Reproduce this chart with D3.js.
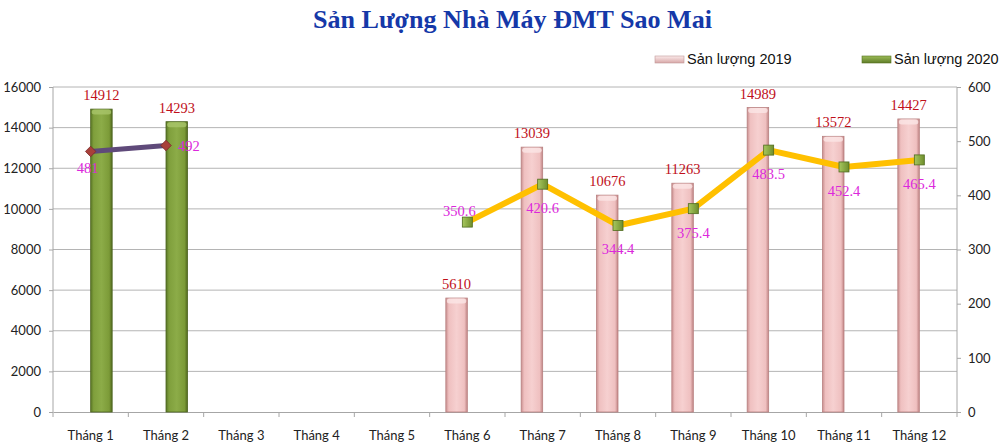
<!DOCTYPE html>
<html>
<head>
<meta charset="utf-8">
<script src="https://cdn.jsdelivr.net/npm/d3@7"></script>
<style>
  body { margin: 0; background: #fff; }
  svg { display: block; }
</style>
</head>
<body>
<div id="chart"></div>
<script>
// chart data
const months = ["Tháng 1", "Tháng 2", "Tháng 3", "Tháng 4", "Tháng 5", "Tháng 6",
	"Tháng 7", "Tháng 8", "Tháng 9", "Tháng 10", "Tháng 11", "Tháng 12"];
const output2019 = [null, null, null, null, null, 5610, 13039, 10676, 11263, 14989, 13572, 14427];
const output2020 = [14912, 14293, null, null, null, null, null, null, null, null, null, null];
const line2019 = [null, null, null, null, null, 350.6, 420.6, 344.4, 375.4, 483.5, 452.4, 465.4];
const line2020 = [481, 492, null, null, null, null, null, null, null, null, null, null];
const leftTicks = [0, 2000, 4000, 6000, 8000, 10000, 12000, 14000, 16000];
const rightTicks = [0, 100, 200, 300, 400, 500, 600];
const seriesNames = ["Sản lượng 2019", "Sản lượng 2020"];
const chartTitle = "Sản Lượng Nhà Máy ĐMT Sao Mai";

const width = 1000;
const height = 444;
const margin = {top: 87, right: 43, bottom: 32, left: 53};

let svg = d3.select("#chart")
	.append("svg")
	.attr("width", width)
	.attr("height", height);

let defs = svg.append("defs");

function barGradient(id, stops) {
	let g = defs.append("linearGradient")
		.attr("id", id)
		.attr("x1", "0%").attr("x2", "100%")
		.attr("y1", "0%").attr("y2", "0%");
	stops.forEach(function(s) {
		g.append("stop").attr("offset", s[0]).attr("stop-color", s[1]);
	});
}
barGradient("pinkBar", [["0%", "#c98f8f"], ["14%", "#efc0c0"], ["50%", "#f6d0d0"], ["86%", "#efc0c0"], ["100%", "#c08484"]]);
barGradient("greenBar", [["0%", "#5a7626"], ["14%", "#7f9f3c"], ["50%", "#8cac48"], ["86%", "#7c9b38"], ["100%", "#52691e"]]);
barGradient("greenMarker", [["0%", "#a8c860"], ["100%", "#6e8e2c"]]);

let x0 = d3.scaleBand()
	.domain(months)
	.range([margin.left, width - margin.right]);

let x1 = d3.scaleBand()
	.domain(["2019", "2020"])
	.range([x0.bandwidth() / 2 - 21.5, x0.bandwidth() / 2 + 21.5]);

let yLeft = d3.scaleLinear()
	.domain([0, 16000])
	.range([height - margin.bottom, margin.top]);

let yRight = d3.scaleLinear()
	.domain([0, 600])
	.range([height - margin.bottom, margin.top]);

// title
svg.append("text")
	.attr("x", 313)
	.attr("y", 28)
	.attr("textLength", 399)
	.attr("lengthAdjust", "spacingAndGlyphs")
	.attr("font-family", "Liberation Serif, serif")
	.attr("font-weight", "bold")
	.attr("font-size", "25px")
	.attr("fill", "#1538a8")
	.text(chartTitle);

// gridlines
svg.append("g")
	.selectAll("line")
	.data(leftTicks.slice(1))
	.enter()
	.append("line")
	.attr("x1", margin.left)
	.attr("x2", width - margin.right)
	.attr("y1", d => yLeft(d))
	.attr("y2", d => yLeft(d))
	.attr("stroke", "#b4b4b4")
	.attr("stroke-width", 1);

// left axis
let leftAxis = svg.append("g")
	.attr("transform", "translate(" + margin.left + ",0)")
	.call(d3.axisLeft(yLeft).tickValues(leftTicks).tickSize(4).tickPadding(8).tickFormat(d3.format("d")));

// right axis
let rightAxis = svg.append("g")
	.attr("transform", "translate(" + (width - margin.right) + ",0)")
	.call(d3.axisRight(yRight).tickValues(rightTicks).tickSize(4).tickPadding(7).tickFormat(d3.format("d")));

// bottom axis, ticks at category boundaries
let bottomAxis = svg.append("g")
	.attr("transform", "translate(0," + (height - margin.bottom) + ")")
	.call(d3.axisBottom(x0).tickSize(0).tickPadding(19));

let boundaries = months.map(m => x0(m)).concat([x0.range()[1]]);
bottomAxis.selectAll(".bound")
	.data(boundaries)
	.enter()
	.append("line")
	.attr("class", "bound")
	.attr("x1", d => d).attr("x2", d => d)
	.attr("y1", 0).attr("y2", 5)
	.attr("stroke", "#a6a6a6");

[leftAxis, rightAxis, bottomAxis].forEach(function(ax) {
	ax.select(".domain").attr("stroke", "#a6a6a6");
	ax.selectAll(".tick line").attr("stroke", "#a6a6a6");
	ax.selectAll("text")
		.attr("font-family", "Lato, sans-serif")
		.attr("font-size", "13px")
		.attr("fill", "#222");
});
rightAxis.select(".domain").attr("d", "M0," + margin.top + "V" + (height - margin.bottom));
leftAxis.select(".domain").attr("d", "M0," + margin.top + "V" + (height - margin.bottom));

// bars
function drawBars(values, key, fill, edge, topFill) {
	let data = months.map((m, i) => ({month: m, value: values[i]})).filter(d => d.value !== null);
	let g = svg.append("g");
	g.selectAll("rect.bar")
		.data(data)
		.enter()
		.append("rect")
		.attr("class", "bar")
		.attr("x", d => x0(d.month) + x1(key))
		.attr("y", d => yLeft(d.value))
		.attr("width", x1.bandwidth())
		.attr("height", d => yLeft(0) - yLeft(d.value))
		.attr("fill", fill)
		.attr("stroke", edge)
		.attr("stroke-width", 0.8);
	// bevelled top
	g.selectAll("rect.top")
		.data(data)
		.enter()
		.append("rect")
		.attr("class", "top")
		.attr("x", d => x0(d.month) + x1(key) + 1)
		.attr("y", d => yLeft(d.value) + 0.5)
		.attr("width", x1.bandwidth() - 2)
		.attr("height", 5)
		.attr("rx", 3)
		.attr("fill", topFill)
		.attr("opacity", 0.8);
	// value labels
	g.selectAll("text")
		.data(data)
		.enter()
		.append("text")
		.attr("x", d => x0(d.month) + x1(key) + x1.bandwidth() / 2)
		.attr("y", d => yLeft(d.value) - 9)
		.attr("text-anchor", "middle")
		.attr("font-family", "Liberation Serif, serif")
		.attr("font-size", "14.5px")
		.attr("fill", "#c0101a")
		.text(d => d.value);
}
drawBars(output2019, "2019", "url(#pinkBar)", "#b88080", "#fbe6e6");
drawBars(output2020, "2020", "url(#greenBar)", "#4c6420", "#a9c56a");

// lines on the right axis
function drawLine(values, color, lineWidth) {
	let data = months.map((m, i) => ({month: m, value: values[i]})).filter(d => d.value !== null);
	let line = d3.line()
		.x(d => x0(d.month) + x0.bandwidth() / 2)
		.y(d => yRight(d.value));
	svg.append("path")
		.datum(data)
		.attr("d", line)
		.attr("fill", "none")
		.attr("stroke", color)
		.attr("stroke-width", lineWidth)
		.attr("stroke-linejoin", "round");
	return data;
}

// label offsets per point: [dx, dy of baseline]
const below = [0, 29];
let pts2019 = drawLine(line2019, "#ffc000", 6);
let pts2020 = drawLine(line2020, "#5f4a7a", 5);

svg.append("g")
	.selectAll("rect")
	.data(pts2019)
	.enter()
	.append("rect")
	.attr("x", d => x0(d.month) + x0.bandwidth() / 2 - 5)
	.attr("y", d => yRight(d.value) - 5)
	.attr("width", 10)
	.attr("height", 10)
	.attr("fill", "url(#greenMarker)")
	.attr("stroke", "#4f6b1f")
	.attr("stroke-width", 0.8);

svg.append("g")
	.selectAll("path")
	.data(pts2020)
	.enter()
	.append("path")
	.attr("d", d3.symbol().type(d3.symbolDiamond2).size(70))
	.attr("transform", d => "translate(" + (x0(d.month) + x0.bandwidth() / 2) + "," + yRight(d.value) + ")")
	.attr("fill", "#a8403a")
	.attr("stroke", "#7a2a28")
	.attr("stroke-width", 0.8);

function lineLabels(data, offsets) {
	svg.append("g")
		.selectAll("text")
		.data(data)
		.enter()
		.append("text")
		.attr("x", (d, i) => x0(d.month) + x0.bandwidth() / 2 + offsets(i)[0])
		.attr("y", (d, i) => yRight(d.value) + offsets(i)[1])
		.attr("text-anchor", (d, i) => offsets(i)[2] || "middle")
		.attr("font-family", "Liberation Serif, serif")
		.attr("font-size", "14.5px")
		.attr("fill", "#dc28dc")
		.text(d => d.value);
}
lineLabels(pts2019, i => i === 0 ? [-8, -6] : below);
lineLabels(pts2020, i => i === 0 ? [-3, 22] : [12, 5, "start"]);

// legend
const legendColors = ["url(#legendPink)", "url(#legendGreen)"];
function legendGradient(id, top, bottom) {
	let g = defs.append("linearGradient")
		.attr("id", id)
		.attr("x1", "0%").attr("x2", "0%")
		.attr("y1", "0%").attr("y2", "100%");
	g.append("stop").attr("offset", "0%").attr("stop-color", top);
	g.append("stop").attr("offset", "100%").attr("stop-color", bottom);
}
legendGradient("legendPink", "#fbeaea", "#d8a8a8");
legendGradient("legendGreen", "#9cbc58", "#5f7c28");

let legend = svg.append("g")
	.selectAll("g")
	.data(seriesNames)
	.enter()
	.append("g")
	.attr("transform", (d, i) => "translate(" + (655 + i * 207) + ",0)");

legend.append("rect")
	.attr("x", 0)
	.attr("y", 56)
	.attr("width", 29)
	.attr("height", 7)
	.attr("fill", (d, i) => legendColors[i])
	.attr("stroke", (d, i) => i === 0 ? "#c09898" : "#55701f")
	.attr("stroke-width", 0.6);

legend.append("text")
	.attr("x", 32)
	.attr("y", 64)
	.attr("font-family", "Liberation Sans, Arial, sans-serif")
	.attr("font-size", "14.5px")
	.attr("fill", "#111")
	.text(d => d);
</script>
</body>
</html>
